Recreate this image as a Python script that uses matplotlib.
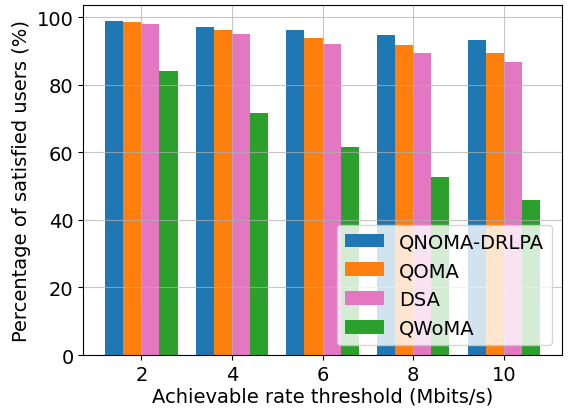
import numpy as np
import matplotlib.pyplot as plt

# achievable rate thresholds (Mbits/s)
thresholds = [2, 4, 6, 8, 10]

# percentage of satisfied users per scheme
qnoma_drlpa = [98.7, 97.2, 96.3, 94.8, 93.3]
qoma = [98.4, 96.3, 93.9, 91.6, 89.5]
dsa = [98.1, 95.1, 92.1, 89.5, 86.8]
qwoma = [84.1, 71.7, 61.6, 52.7, 45.9]

labels = ['QNOMA-DRLPA', 'QOMA', 'DSA', 'QWoMA']
colors = ['#1f77b4', '#ff7f0e', '#e377c2', '#2ca02c']

x = np.array(thresholds)
w = 0.4

plt.rcParams['font.size'] = 14
fig, ax = plt.subplots(figsize=(5.71, 4.14), dpi=100)
fig.subplots_adjust(left=0.146, right=0.984, top=0.986, bottom=0.14)

for i, (vals, lab, c) in enumerate(zip([qnoma_drlpa, qoma, dsa, qwoma], labels, colors)):
    ax.bar(x + (i - 1.5) * w, vals, w, label=lab, color=c)

ax.set_xticks(thresholds)
ax.set_xlabel('Achievable rate threshold (Mbits/s)', labelpad=2)
ax.set_ylabel('Percentage of satisfied users (%)')
ax.grid(True, alpha=0.7)
ax.legend(loc='lower right')

plt.savefig('out.png')
